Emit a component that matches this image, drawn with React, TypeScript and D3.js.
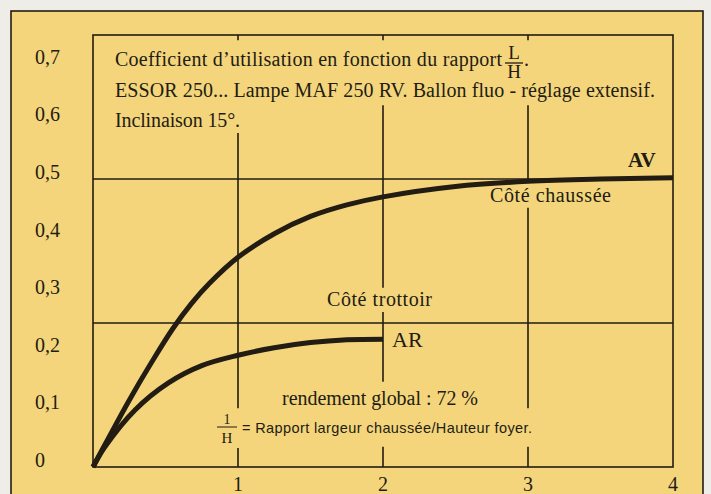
import React from "react";
import * as d3 from "d3";

// Courbes (L/H, coefficient)
const avX = [0, 0.1, 0.25, 0.4, 0.55, 0.68, 0.8, 1, 1.25, 1.5, 1.75, 2, 2.5, 3, 3.5, 4];
const avY = [0, 0.047, 0.116, 0.18, 0.24, 0.284, 0.318, 0.364, 0.405, 0.435, 0.455, 0.469, 0.487, 0.496, 0.5, 0.502];
const arX = [0, 0.08, 0.29, 0.52, 0.75, 1, 1.25, 1.5, 1.75, 2];
const arY = [0, 0.034, 0.099, 0.146, 0.176, 0.194, 0.207, 0.216, 0.221, 0.222];

const yTicks = [0, 0.1, 0.2, 0.3, 0.4, 0.5, 0.6, 0.7];
const xTicks = [1, 2, 3, 4];
const hLines = [0.25, 0.5];

// segments visibles des verticales (en unités de y), coupés autour des textes
const vSegments: [number, [number, number][]][] = [
  [1, [[0.741, 0.75], [0.102, 0.58], [0, 0.033]]],
  [2, [[0.741, 0.75], [0.311, 0.628], [0.148, 0.269], [0, 0.035]]],
  [3, [[0.741, 0.75], [0.498, 0.628], [0.102, 0.45], [0, 0.035]]],
];

const W = 711;
const H = 494;
const ink = "#221c12";
const serif = "'Liberation Serif', 'Times New Roman', serif";
const sans = "'Liberation Sans', Arial, sans-serif";

export default function App() {
  const x = d3.scaleLinear().domain([0, 4]).range([93, 673]);
  const y = d3.scaleLinear().domain([0, 0.75]).range([467, 35]);

  const line = d3
    .line<[number, number]>()
    .x((d) => x(d[0]))
    .y((d) => y(d[1]))
    .curve(d3.curveCatmullRom.alpha(0.5));

  const av = avX.map((v, i) => [v, avY[i]] as [number, number]);
  const ar = arX.map((v, i) => [v, arY[i]] as [number, number]);

  return (
    <svg width={W} height={H} style={{ position: "fixed", left: 0, top: 0 }}>
      <rect x={0} y={0} width={W} height={H} fill="#eeede8" />
      <rect x={11} y={11} width={692} height={H} fill="#f4d57c" stroke={ink} strokeWidth={1.6} />

      {/* cadre du graphique */}
      <rect x={x(0)} y={y(0.75)} width={x(4) - x(0)} height={y(0) - y(0.75)} fill="none" stroke={ink} strokeWidth={1.6} />

      {hLines.map((v) => (
        <line key={v} x1={x(0)} x2={x(4)} y1={y(v)} y2={y(v)} stroke={ink} strokeWidth={1.5} />
      ))}
      {vSegments.map(([xv, segs]) =>
        segs.map(([a, b], i) => (
          <line key={xv + "-" + i} x1={x(xv)} x2={x(xv)} y1={y(a)} y2={y(b)} stroke={ink} strokeWidth={1.6} />
        ))
      )}

      {/* courbes */}
      <path d={line(av) || ""} fill="none" stroke={ink} strokeWidth={5} />
      <path d={line(ar) || ""} fill="none" stroke={ink} strokeWidth={5} />

      {/* graduations */}
      <g fontFamily={serif} fontSize={20} fill={ink}>
        {yTicks.map((v) => (
          <text key={v} x={35} y={y(v)}>
            {v === 0 ? "0" : d3.format(".1f")(v).replace(".", ",")}
          </text>
        ))}
        {xTicks.map((v) => (
          <text key={v} x={x(v)} y={491} textAnchor="middle">
            {v}
          </text>
        ))}
      </g>

      {/* titre */}
      <g fontFamily={serif} fontSize={20} fill={ink}>
        <text x={115} y={66} textLength={387} lengthAdjust="spacing">Coefficient d’utilisation en fonction du rapport</text>
        <text x={514} y={59} textAnchor="middle" fontSize={19}>L</text>
        <line x1={505} x2={523} y1={63} y2={63} stroke={ink} strokeWidth={1.3} />
        <text x={514} y={78} textAnchor="middle" fontSize={19}>H</text>
        <text x={524} y={66}>.</text>
        <text x={115} y={97} textLength={540} lengthAdjust="spacing">ESSOR 250... Lampe MAF 250 RV. Ballon fluo - réglage extensif.</text>
        <text x={115} y={127} textLength={125} lengthAdjust="spacing">Inclinaison 15°.</text>

        <text x={628} y={167} fontSize={21} fontWeight="bold">AV</text>
        <text x={490} y={202} textLength={121} lengthAdjust="spacing">Côté chaussée</text>
        <text x={327} y={306} textLength={105} lengthAdjust="spacing">Côté trottoir</text>
        <text x={392} y={347} fontSize={22}>AR</text>
        <text x={282} y={405} textLength={196} lengthAdjust="spacing">rendement global : 72 %</text>
      </g>

      <g fill={ink}>
        <text x={227} y={424} fontFamily={serif} fontSize={14} textAnchor="middle">1</text>
        <line x1={217} x2={237} y1={427} y2={427} stroke={ink} strokeWidth={1} />
        <text x={227} y={443} fontFamily={serif} fontSize={15} textAnchor="middle">H</text>
        <text x={242} y={433} fontFamily={sans} fontSize={14.5} textLength={290} lengthAdjust="spacing">= Rapport largeur chaussée/Hauteur foyer.</text>
      </g>
    </svg>
  );
}
